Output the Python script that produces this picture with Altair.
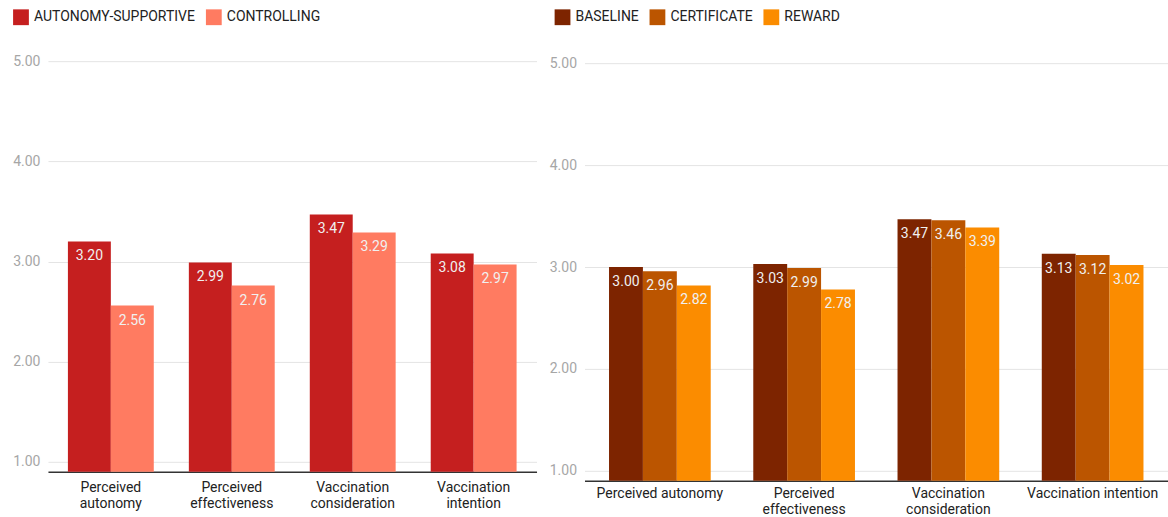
import altair as alt
import pandas as pd

left_labels = ["Perceived\nautonomy", "Perceived\neffectiveness", "Vaccination\nconsideration", "Vaccination\nintention"]
right_labels = ["Perceived autonomy", "Perceived\neffectiveness", "Vaccination\nconsideration", "Vaccination intention"]

left_series = ["AUTONOMY-SUPPORTIVE", "CONTROLLING"]
autonomy_supportive = [3.20, 2.99, 3.47, 3.08]
controlling = [2.56, 2.76, 3.29, 2.97]
left_colors = ["#c51f1f", "#ff7b61"]

right_series = ["BASELINE", "CERTIFICATE", "REWARD"]
baseline = [3.00, 3.03, 3.47, 3.13]
certificate = [2.96, 2.99, 3.46, 3.12]
reward = [2.82, 2.78, 3.39, 3.02]
right_colors = ["#7d2400", "#bb5500", "#fb8c00"]

y_ticks = [1, 2, 3, 4, 5]


def make_df(labels, series, values):
    rows = []
    for s, vals in zip(series, values):
        for c, v in zip(labels, vals):
            rows.append({"cat": c, "series": s, "value": v})
    return pd.DataFrame(rows)


def panel(df, labels, series, colors, width, height, pad_inner, pad_outer,
          y_max, legend_x, x_label_pad):
    x = alt.X(
        "cat:N", sort=labels, title=None,
        scale=alt.Scale(paddingInner=pad_inner, paddingOuter=pad_outer),
        axis=alt.Axis(labelAngle=0, labelExpr="split(datum.label, '\\n')",
                      ticks=False, domainColor="#333333", domainWidth=1.5,
                      labelFontSize=14, labelColor="#222222",
                      labelPadding=x_label_pad,
                      labelLineHeight=16, labelLimit=300),
    )
    xo = alt.XOffset("series:N", sort=series, scale=alt.Scale(paddingInner=0))
    y = alt.Y(
        "value:Q", title=None,
        scale=alt.Scale(domain=[0.9, y_max], nice=False, zero=False),
        axis=alt.Axis(values=y_ticks, format=".2f", domain=False, ticks=False,
                      labelFontSize=14, labelColor="#a6a6a6", labelPadding=8,
                      gridColor="#e4e4e4", gridWidth=1),
    )
    bars = alt.Chart(df).mark_bar().encode(
        x=x, xOffset=xo, y=y, y2=alt.datum(0.9),
        color=alt.Color(
            "series:N", sort=series,
            scale=alt.Scale(domain=series, range=colors),
            legend=alt.Legend(orient="none", legendX=legend_x, legendY=-32,
                              direction="horizontal", title=None,
                              symbolType="square", symbolSize=250,
                              symbolStrokeWidth=0, symbolOpacity=1,
                              labelFontSize=14, labelColor="#222222",
                              labelOffset=5, columnPadding=10, labelLimit=400),
        ),
    )
    text = alt.Chart(df).mark_text(baseline="middle", dy=15, color="#f0f0f0",
                                   fontSize=14).encode(
        x=x, xOffset=xo, y=y,
        text=alt.Text("value:Q", format=".2f"),
    )
    return alt.layer(bars, text).properties(width=width, height=height)


left_df = make_df(left_labels, left_series, [autonomy_supportive, controlling])
right_df = make_df(right_labels, right_series, [baseline, certificate, reward])

left = panel(left_df, left_labels, left_series, left_colors,
             489, 431, 0.29, 0.165, 5.2, -35, 9)
right = panel(right_df, right_labels, right_series, right_colors,
              584, 440, 0.295, 0.17, 5.22, -30, 6)

chart = alt.hconcat(left, right, spacing=12).resolve_scale(
    x="independent", y="independent", color="independent", xOffset="independent"
).configure(
    font="Roboto", padding={"left": 12, "top": 9, "right": 0, "bottom": 0}
).configure_view(stroke=None)

chart.save("out.html", embed_options={"renderer": "svg", "actions": False})
